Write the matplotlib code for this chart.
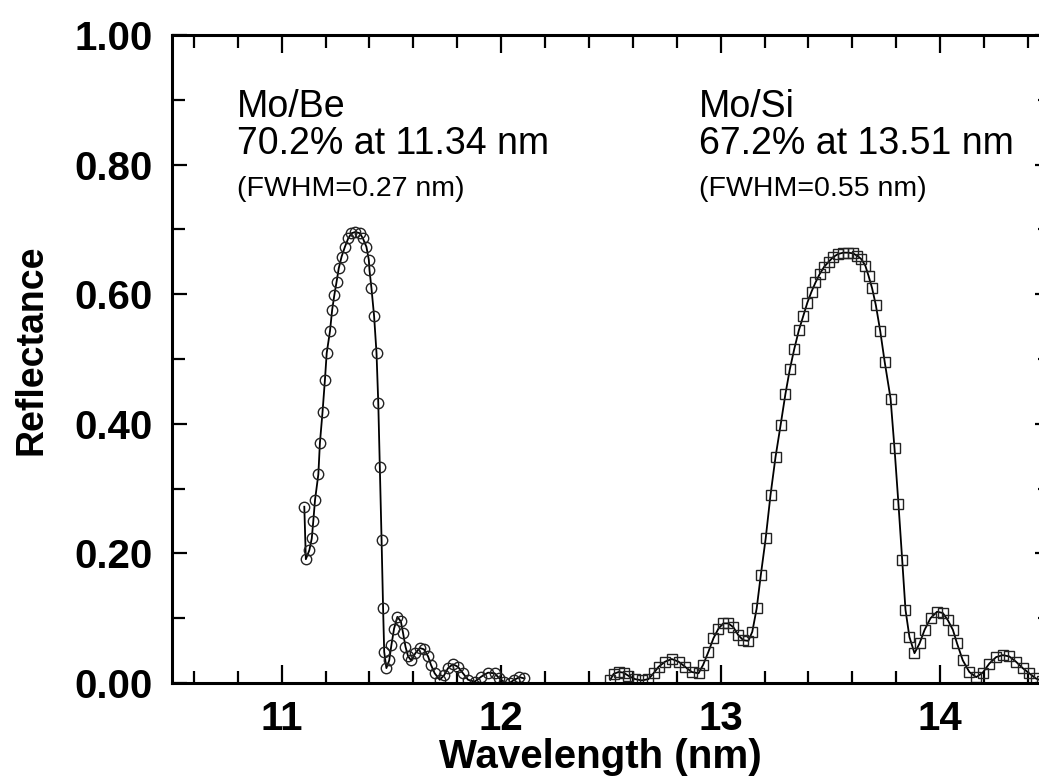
import matplotlib
matplotlib.use("Agg")
import matplotlib.pyplot as plt
from matplotlib.ticker import MultipleLocator, FormatStrFormatter

plt.rcParams['font.family'] = ['Liberation Sans', 'DejaVu Sans']

# Mo/Be multilayer
mobe_wl = [11.103, 11.110, 11.126, 11.137, 11.144, 11.152, 11.167, 11.174, 11.186, 11.197,
           11.205, 11.220, 11.230, 11.240, 11.250, 11.260, 11.273, 11.288, 11.303, 11.318,
           11.336, 11.356, 11.370, 11.386, 11.397, 11.400, 11.409, 11.421, 11.432, 11.440,
           11.447, 11.455, 11.462, 11.467, 11.477, 11.490, 11.500, 11.512, 11.527, 11.543,
           11.553, 11.564, 11.576, 11.590, 11.609, 11.629, 11.648, 11.667, 11.680, 11.697,
           11.720, 11.740, 11.758, 11.780, 11.803, 11.826, 11.849, 11.879, 11.910, 11.940,
           11.970, 11.992, 12.015, 12.038, 12.060, 12.083, 12.106]
mobe_r = [0.272, 0.191, 0.205, 0.223, 0.250, 0.283, 0.322, 0.370, 0.418, 0.468,
          0.509, 0.543, 0.576, 0.599, 0.619, 0.640, 0.658, 0.673, 0.686, 0.694,
          0.696, 0.694, 0.686, 0.673, 0.653, 0.637, 0.609, 0.566, 0.509, 0.432,
          0.334, 0.221, 0.115, 0.048, 0.023, 0.035, 0.059, 0.084, 0.102, 0.095,
          0.077, 0.056, 0.041, 0.035, 0.046, 0.054, 0.052, 0.041, 0.028, 0.015,
          0.005, 0.012, 0.023, 0.029, 0.025, 0.015, 0.005, 0.002, 0.010, 0.016,
          0.015, 0.007, 0.001, 0.000, 0.005, 0.009, 0.007]

# Mo/Si multilayer
mosi_wl = [12.497, 12.512, 12.535, 12.558, 12.580, 12.610, 12.641, 12.671, 12.694, 12.717,
           12.747, 12.777, 12.808, 12.838, 12.868, 12.899, 12.920, 12.944, 12.967, 12.990,
           13.012, 13.035, 13.058, 13.080, 13.103, 13.126, 13.144, 13.164, 13.183, 13.205,
           13.227, 13.250, 13.273, 13.295, 13.315, 13.335, 13.356, 13.376, 13.395, 13.414,
           13.432, 13.451, 13.471, 13.492, 13.512, 13.535, 13.558, 13.580, 13.603, 13.623,
           13.641, 13.659, 13.674, 13.690, 13.707, 13.727, 13.747, 13.774, 13.792, 13.810,
           13.827, 13.842, 13.860, 13.883, 13.906, 13.929, 13.956, 13.986, 14.012, 14.035,
           14.058, 14.077, 14.103, 14.133, 14.164, 14.194, 14.224, 14.255, 14.285, 14.315,
           14.345, 14.376, 14.406, 14.436, 14.466]
mosi_r = [0.005, 0.014, 0.017, 0.016, 0.011, 0.006, 0.004, 0.006, 0.015, 0.025,
          0.033, 0.037, 0.033, 0.025, 0.017, 0.015, 0.028, 0.048, 0.069, 0.084,
          0.092, 0.092, 0.086, 0.074, 0.066, 0.065, 0.079, 0.115, 0.167, 0.223,
          0.290, 0.349, 0.398, 0.446, 0.484, 0.515, 0.544, 0.566, 0.587, 0.604,
          0.618, 0.631, 0.642, 0.650, 0.657, 0.662, 0.664, 0.664, 0.663, 0.659,
          0.654, 0.644, 0.628, 0.609, 0.583, 0.543, 0.496, 0.439, 0.362, 0.276,
          0.190, 0.113, 0.071, 0.046, 0.061, 0.082, 0.100, 0.110, 0.108, 0.097,
          0.082, 0.061, 0.035, 0.017, 0.009, 0.016, 0.030, 0.040, 0.043, 0.041,
          0.033, 0.023, 0.015, 0.007, 0.003]

fig = plt.figure(figsize=(10.39, 7.78), dpi=100)
ax = fig.add_axes([0.1655, 0.1221, 0.845, 0.833])

ax.plot(mobe_wl, mobe_r, color='black', lw=1.3, marker='o', ms=7.5,
        mfc='none', mec='#222222', mew=1.0)
ax.plot(mosi_wl, mosi_r, color='black', lw=1.3, marker='s', ms=7,
        mfc='none', mec='#222222', mew=1.0)

ax.set_xlim(10.5, 14.5)
ax.set_ylim(0, 1.0)

ax.xaxis.set_major_locator(MultipleLocator(1))
ax.xaxis.set_minor_locator(MultipleLocator(0.2))
ax.yaxis.set_major_locator(MultipleLocator(0.2))
ax.yaxis.set_minor_locator(MultipleLocator(0.1))
ax.yaxis.set_major_formatter(FormatStrFormatter('%.2f'))

ax.tick_params(which='both', direction='in', top=True, right=True, width=1.6)
ax.tick_params(which='major', length=13)
ax.tick_params(which='minor', length=9)
ax.tick_params(axis='y', which='major', length=11)
ax.tick_params(axis='y', which='major', pad=14)
ax.tick_params(axis='x', which='major', pad=12)

for lab in ax.get_xticklabels() + ax.get_yticklabels():
    lab.set_fontsize(29)
    lab.set_fontweight('bold')

for sp in ax.spines.values():
    sp.set_linewidth(2.2)

ax.set_xlabel('Wavelength (nm)', fontsize=29, fontweight='bold')
ax.xaxis.set_label_coords((600 - 172) / 878, -0.085)
ax.set_ylabel('Reflectance', fontsize=27, fontweight='bold')
ax.yaxis.set_label_coords(-0.139, 0.514)

# annotations
ax.text(10.795, 0.917, 'Mo/Be', fontsize=27, va='top')
ax.text(10.795, 0.859, '70.2% at 11.34 nm', fontsize=27, va='top')
ax.text(10.795, 0.783, '(FWHM=0.27 nm)', fontsize=20.5, va='top')

ax.text(12.9, 0.917, 'Mo/Si', fontsize=27, va='top')
ax.text(12.9, 0.859, '67.2% at 13.51 nm', fontsize=27, va='top')
ax.text(12.9, 0.783, '(FWHM=0.55 nm)', fontsize=20.5, va='top')

fig.savefig('out.png', dpi=100)
